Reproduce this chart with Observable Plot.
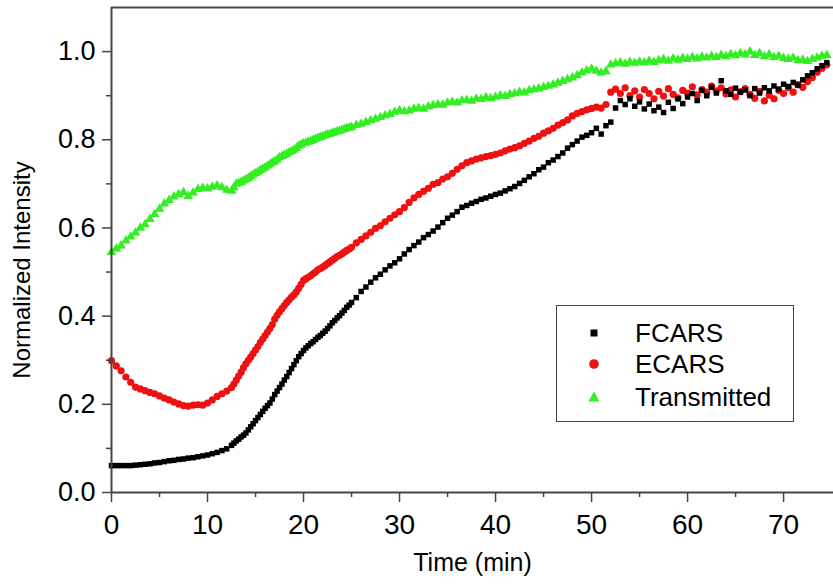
<!DOCTYPE html>
<html>
<head>
<meta charset="utf-8">
<script src="https://cdn.jsdelivr.net/npm/d3@7"></script>
<script src="https://cdn.jsdelivr.net/npm/@observablehq/plot@0.6"></script>
<style>
  html, body { margin: 0; padding: 0; background: #fff; }
  #wrap { position: relative; width: 833px; height: 585px; font-family: "Liberation Sans", Arial, sans-serif; }
  #legend { position: absolute; left: 556px; top: 305px; width: 236px; height: 115px; border: 1.5px solid #444; background: #fff; }
  .row { position: absolute; left: 0; height: 30px; display: flex; align-items: center; font-size: 26px; color: #000; }
  .row svg { margin-left: 28px; width: 18px; height: 18px; }
  .row span { margin-left: 32px; }
</style>
</head>
<body>
<div id="wrap"></div>
<script>
// ---- data ----
const time = [0,0.5,1,1.5,2,2.5,3,3.5,4,4.5,5,5.5,6,6.5,7,7.5,8,8.5,9,9.5,10,10.5,11,11.5,12,12.5,13,13.5,14,14.5,15,15.5,16,16.5,17,17.5,18,18.5,19,19.5,20,20.5,21,21.5,22,22.5,23,23.5,24,24.5,25,25.5,26,26.5,27,27.5,28,28.5,29,29.5,30,30.5,31,31.5,32,32.5,33,33.5,34,34.5,35,35.5,36,36.5,37,37.5,38,38.5,39,39.5,40,40.5,41,41.5,42,42.5,43,43.5,44,44.5,45,45.5,46,46.5,47,47.5,48,48.5,49,49.5,50,50.5,51,51.5,52,52.5,53,53.5,54,54.5,55,55.5,56,56.5,57,57.5,58,58.5,59,59.5,60,60.5,61,61.5,62,62.5,63,63.5,64,64.5,65,65.5,66,66.5,67,67.5,68,68.5,69,69.5,70,70.5,71,71.5,72,72.5,73,73.5,74,74.5];

const transmitted = [0.545,0.553,0.560,0.571,0.580,0.589,0.600,0.608,0.620,0.631,0.643,0.655,0.663,0.671,0.676,0.681,0.672,0.680,0.688,0.691,0.689,0.693,0.696,0.692,0.686,0.684,0.700,0.704,0.710,0.717,0.724,0.731,0.737,0.744,0.751,0.760,0.765,0.771,0.777,0.786,0.792,0.795,0.799,0.804,0.808,0.812,0.815,0.819,0.822,0.826,0.829,0.833,0.836,0.840,0.844,0.847,0.851,0.855,0.858,0.863,0.866,0.864,0.866,0.870,0.872,0.870,0.875,0.878,0.880,0.879,0.884,0.886,0.884,0.889,0.890,0.888,0.893,0.892,0.896,0.894,0.897,0.900,0.899,0.903,0.905,0.908,0.907,0.912,0.914,0.916,0.919,0.922,0.925,0.929,0.933,0.937,0.941,0.946,0.952,0.957,0.961,0.956,0.952,0.955,0.970,0.973,0.975,0.972,0.976,0.974,0.977,0.975,0.979,0.976,0.980,0.983,0.979,0.984,0.981,0.985,0.983,0.987,0.984,0.988,0.986,0.990,0.987,0.992,0.989,0.994,0.991,0.996,0.993,1.000,0.992,0.996,0.989,0.993,0.987,0.990,0.985,0.983,0.986,0.980,0.981,0.978,0.983,0.986,0.990,0.992];

const ecars = [0.299,0.287,0.276,0.262,0.250,0.239,0.235,0.231,0.227,0.224,0.219,0.214,0.210,0.205,0.201,0.197,0.196,0.198,0.199,0.198,0.203,0.210,0.218,0.224,0.230,0.238,0.255,0.273,0.292,0.307,0.323,0.340,0.356,0.372,0.393,0.410,0.424,0.437,0.448,0.463,0.481,0.488,0.496,0.505,0.511,0.519,0.527,0.535,0.541,0.549,0.556,0.566,0.574,0.582,0.590,0.599,0.605,0.614,0.622,0.630,0.637,0.646,0.658,0.668,0.676,0.683,0.690,0.699,0.703,0.711,0.716,0.724,0.733,0.741,0.748,0.752,0.756,0.759,0.762,0.764,0.767,0.770,0.775,0.779,0.782,0.786,0.792,0.797,0.803,0.808,0.815,0.820,0.826,0.833,0.839,0.845,0.854,0.860,0.864,0.868,0.871,0.874,0.872,0.880,0.908,0.915,0.905,0.918,0.900,0.911,0.897,0.914,0.905,0.893,0.910,0.899,0.916,0.903,0.895,0.912,0.906,0.920,0.902,0.914,0.908,0.922,0.911,0.918,0.904,0.913,0.897,0.909,0.916,0.903,0.894,0.910,0.888,0.901,0.893,0.912,0.905,0.918,0.908,0.925,0.919,0.932,0.941,0.953,0.962,0.970];

const fcars = [0.061,0.061,0.061,0.061,0.061,0.062,0.063,0.064,0.065,0.067,0.068,0.070,0.072,0.073,0.075,0.076,0.078,0.079,0.081,0.083,0.085,0.088,0.091,0.095,0.099,0.107,0.117,0.126,0.135,0.149,0.163,0.177,0.191,0.203,0.222,0.238,0.255,0.272,0.290,0.308,0.322,0.333,0.342,0.352,0.361,0.372,0.385,0.396,0.407,0.420,0.431,0.442,0.456,0.466,0.477,0.487,0.495,0.505,0.514,0.521,0.530,0.541,0.551,0.560,0.568,0.578,0.585,0.593,0.602,0.612,0.622,0.629,0.637,0.647,0.651,0.656,0.660,0.665,0.668,0.672,0.676,0.679,0.684,0.689,0.694,0.701,0.708,0.716,0.723,0.732,0.738,0.748,0.754,0.762,0.770,0.781,0.789,0.797,0.806,0.810,0.816,0.826,0.813,0.832,0.840,0.872,0.889,0.880,0.893,0.876,0.886,0.870,0.881,0.866,0.874,0.862,0.885,0.871,0.893,0.882,0.897,0.905,0.889,0.912,0.900,0.919,0.906,0.934,0.911,0.903,0.917,0.908,0.913,0.900,0.916,0.906,0.918,0.911,0.922,0.915,0.926,0.921,0.930,0.924,0.936,0.945,0.952,0.961,0.968,0.975];

// extra readings in the steep section (12.75 – 24.75 min)
const timeExtra = [12.75,13.25,13.75,14.25,14.75,15.25,15.75,16.25,16.75,17.25,17.75,18.25,18.75,19.25,19.75,20.25,20.75,21.25,21.75,22.25,22.75,23.25,23.75,24.25,24.75];
const transmittedExtra = [0.692,0.702,0.707,0.713,0.721,0.727,0.734,0.741,0.748,0.755,0.763,0.768,0.774,0.781,0.789,0.793,0.797,0.802,0.806,0.810,0.813,0.817,0.820,0.824,0.827];
const ecarsExtra = [0.246,0.264,0.283,0.300,0.315,0.331,0.348,0.364,0.381,0.402,0.417,0.431,0.443,0.455,0.472,0.485,0.492,0.500,0.508,0.515,0.523,0.531,0.538,0.545,0.552];
const fcarsExtra = [0.112,0.121,0.130,0.142,0.156,0.170,0.184,0.197,0.212,0.230,0.246,0.263,0.281,0.299,0.315,0.328,0.338,0.347,0.356,0.366,0.378,0.390,0.401,0.413,0.425];

const seriesNames = ["FCARS", "ECARS", "Transmitted"];
const seriesColors = ["#000000", "#ee1111", "#33ee22"];
const seriesSymbols = ["square", "circle", "triangle"];
const xMajorTicks = [0, 10, 20, 30, 40, 50, 60, 70];
const xMinorTicks = [5, 15, 25, 35, 45, 55, 65];
const yMajorTicks = [0.0, 0.2, 0.4, 0.6, 0.8, 1.0];
const yMinorTicks = [0.1, 0.3, 0.5, 0.7, 0.9];
const xLabel = "Time (min)";
const yLabel = "Normalized Intensity";

// ---- build tables ----
const toRows = (vals, extra) =>
  vals.map((v, i) => ({t: time[i], v})).concat(extra.map((v, i) => ({t: timeExtra[i], v})));
const fRows = toRows(fcars, fcarsExtra);
const eRows = toRows(ecars, ecarsExtra);
const gRows = toRows(transmitted, transmittedExtra);

const axisColor = "#444";
const font = "'Liberation Sans', Arial, sans-serif";

const chart = Plot.plot({
  width: 833,
  height: 585,
  marginLeft: 111,
  marginRight: 0,
  marginTop: 7,
  marginBottom: 93,
  x: {domain: [0, 75.2]},
  y: {domain: [0, 1.1]},
  style: {fontFamily: font, background: "#fff", color: "#000", overflow: "visible"},
  marks: [
    Plot.ruleY([1.1], {stroke: axisColor, strokeWidth: 2}),
    Plot.dot(gRows, {x: "t", y: "v", symbol: seriesSymbols[2], r: 3.6, fill: seriesColors[2], stroke: null}),
    Plot.dot(eRows, {x: "t", y: "v", symbol: seriesSymbols[1], r: 3.6, fill: seriesColors[1], stroke: null}),
    Plot.dot(fRows, {x: "t", y: "v", symbol: seriesSymbols[0], r: 3.1, fill: seriesColors[0], stroke: null}),
    Plot.axisX({ticks: xMajorTicks, tickSize: 10, tickPadding: 12, fontSize: 28, stroke: axisColor, strokeWidth: 1.5, color: "#000", label: null}),
    Plot.axisX({ticks: xMinorTicks, tickSize: 5, text: null, stroke: axisColor, strokeWidth: 1.5, label: null}),
    Plot.axisY({ticks: yMajorTicks, tickSize: 9, tickPadding: 7, tickFormat: d3.format(".1f"), fontSize: 27, stroke: axisColor, strokeWidth: 1.5, label: null}),
    Plot.axisY({ticks: yMinorTicks, tickSize: 5, text: null, stroke: axisColor, strokeWidth: 1.5, label: null}),
    Plot.ruleX([0], {stroke: axisColor, strokeWidth: 2}),
    Plot.ruleY([0], {stroke: axisColor, strokeWidth: 2}),
    Plot.text([xLabel], {frameAnchor: "bottom", textAnchor: "middle", dy: 78, fontSize: 25, fill: "#000"}),
    Plot.text([yLabel], {frameAnchor: "left", textAnchor: "middle", rotate: -90, dx: -89, dy: 20, fontSize: 24, fill: "#000"})
  ]
});

const wrap = document.getElementById("wrap");
wrap.appendChild(chart);

// ---- legend ----
const legend = document.createElement("div");
legend.id = "legend";
const rowTops = [12, 43, 76];
const symbolSvg = (sym, color) => {
  if (sym === "square") return `<svg viewBox="-9 -9 18 18"><rect x="-3.5" y="-3.5" width="7" height="7" fill="${color}"/></svg>`;
  if (sym === "circle") return `<svg viewBox="-9 -9 18 18"><circle r="4.8" fill="${color}"/></svg>`;
  return `<svg viewBox="-9 -9 18 18"><path d="M0,-5.5L5.5,4.5L-5.5,4.5Z" fill="${color}"/></svg>`;
};
seriesNames.forEach((name, i) => {
  const row = document.createElement("div");
  row.className = "row";
  row.style.top = rowTops[i] + "px";
  row.innerHTML = symbolSvg(seriesSymbols[i], seriesColors[i]) + `<span>${name}</span>`;
  legend.appendChild(row);
});
wrap.appendChild(legend);
</script>
</body>
</html>
